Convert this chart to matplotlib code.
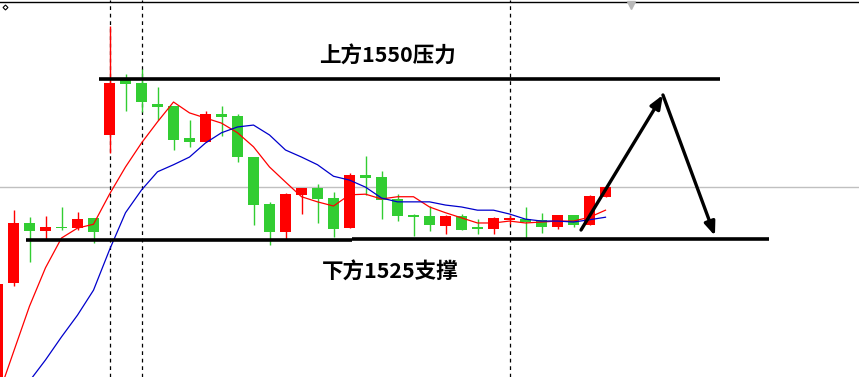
import matplotlib
matplotlib.use("Agg")
import matplotlib.pyplot as plt
import numpy as np

plt.rcParams['font.family'] = ['Noto Sans CJK SC', 'DejaVu Sans']

# ---- data (prices) ----
opens  = [1499.8, 1518.1, 1527.5, 1526.25, 1526.9, 1526.7, 1528.3, 1541.25, 1550.0, 1549.4,
          1546.1, 1545.8, 1540.8, 1540.2, 1544.5, 1544.2, 1537.8, 1530.5, 1526.1, 1531.9,
          1533.0, 1531.4, 1526.7, 1535.0, 1534.7, 1531.25, 1528.75, 1528.6, 1527.0, 1528.6,
          1526.9, 1526.6, 1528.0, 1528.1, 1528.0, 1526.9, 1528.75, 1527.2, 1531.6]
closes = [1518.0, 1527.5, 1526.25, 1526.9, 1526.7, 1528.1, 1526.1, 1549.4, 1549.2, 1546.4,
          1545.6, 1540.5, 1540.2, 1544.5, 1544.1, 1537.8, 1530.3, 1526.1, 1532.0, 1533.0,
          1531.25, 1526.6, 1535.0, 1534.5, 1531.1, 1528.6, 1528.4, 1527.2, 1528.6, 1526.4,
          1526.6, 1528.3, 1528.1, 1527.65, 1526.9, 1528.75, 1527.2, 1531.7, 1533.1]
highs  = [1518.0, 1529.5, 1528.4, 1528.6, 1530.0, 1529.2, 1528.3, 1558.3, 1550.8, 1551.6,
          1548.75, 1545.8, 1543.6, 1545.0, 1545.8, 1544.5, 1537.8, 1530.8, 1532.2, 1533.0,
          1533.6, 1532.3, 1535.3, 1538.0, 1535.6, 1532.0, 1528.9, 1530.2, 1528.75, 1528.9,
          1528.1, 1528.4, 1528.75, 1530.0, 1529.1, 1528.75, 1528.75, 1531.9, 1533.1]
lows   = [1498.3, 1517.7, 1521.4, 1525.0, 1526.4, 1526.4, 1524.4, 1538.4, 1545.0, 1544.8,
          1543.6, 1538.9, 1539.4, 1540.2, 1541.1, 1537.0, 1527.2, 1524.1, 1524.8, 1528.9,
          1527.5, 1525.3, 1526.7, 1531.9, 1528.1, 1527.8, 1525.5, 1526.25, 1525.8, 1526.4,
          1525.8, 1525.8, 1527.3, 1525.2, 1525.9, 1526.6, 1526.9, 1527.2, 1531.6]
ma_red  = [1500.15, 1507.34, 1514.5, 1520.5, 1525.15, 1526.7, 1527.3, 1532.0, 1536.25, 1540.0,
           1543.3, 1546.4, 1544.7, 1543.9, 1543.1, 1541.6, 1539.4, 1536.25, 1533.9, 1531.6,
           1530.8, 1530.15, 1531.9, 1532.0, 1531.25, 1531.6, 1531.6, 1530.0, 1529.1, 1528.3,
           1527.5, 1527.5, 1527.8, 1527.5, 1527.65, 1527.8, 1527.8, 1528.4, 1529.5]
ma_blue = [1494.7, 1498.75, 1502.8, 1506.1, 1509.7, 1513.1, 1517.0, 1523.3, 1529.1, 1532.65,
           1535.5, 1536.6, 1537.8, 1540.0, 1541.6, 1542.5, 1542.8, 1541.25, 1538.9, 1537.8,
           1536.6, 1534.8, 1534.2, 1533.1, 1531.4, 1530.8, 1530.8, 1530.8, 1530.3, 1530.0,
           1529.5, 1529.5, 1528.9, 1528.1, 1527.8, 1527.8, 1527.65, 1528.0, 1528.4]

resistance = 1550.0
support = 1525.0
last_price = 1533.1
marker_bars = [7, 9, 32]
label_top = "上方1550压力"
label_bottom = "下方1525支撑"
# arrow path (bar index, price)
arrow_x = [36.47, 41.59, 44.84]
arrow_y = [1526.4, 1547.5, 1525.5]

# ---- figure ----
W, H = 859, 377
fig = plt.figure(figsize=(W / 100, H / 100), dpi=100)
ax = fig.add_axes([0, 0, 1, 1])
ax.set_xlim(2.5 / 16, (W + 2.5) / 16)
ax.set_ylim(1562.34 - H / 6.4, 1562.34)
ax.axis('off')

RED = '#ff0000'
GREEN = '#32cd32'
x = np.arange(len(opens))
o = np.array(opens); c = np.array(closes)
cols = [RED if cc >= oo else GREEN for oo, cc in zip(o, c)]

# current price line
ax.axhline(last_price, color='#c0c0c0', lw=1.0, zorder=1)
# top border
ax.axhline(1562.0, color='black', lw=1.0, zorder=1)

# dashed verticals
for b in marker_bars:
    ax.axvline(b, color='black', lw=0.9, ls=(0, (3, 3)), zorder=1)

# wicks
ax.vlines(x, lows, highs, colors=cols, lw=1.0, zorder=3)
# bodies
bottoms = np.minimum(o, c)
heights = np.maximum(np.abs(c - o), 0.2)
ax.bar(x, heights, bottom=bottoms, width=0.7, color=cols, lw=0, zorder=4)

# moving averages
ax.plot(x, ma_red, color=RED, lw=0.9, zorder=5)
ax.plot(x, ma_blue, color='#0000cc', lw=0.9, zorder=5)

# support / resistance
ax.plot([6.34, 45.16], [resistance, resistance], color='black', lw=2.6, zorder=6, solid_capstyle='butt')
ax.plot([1.78, 22.16], [support - 0.2, support - 0.2], color='black', lw=2.6, zorder=6, solid_capstyle='butt')
ax.plot([22.16, 48.22], [support, support], color='black', lw=2.6, zorder=6, solid_capstyle='butt')

# arrows
for i in range(2):
    ax.annotate('', xy=(arrow_x[i + 1], arrow_y[i + 1]), xytext=(arrow_x[i], arrow_y[i]),
                arrowprops=dict(arrowstyle='-|>,head_length=0.8,head_width=0.32',
                                color='black', lw=2.4, shrinkA=0, shrinkB=0),
                zorder=7)

# labels
ax.text(24.4, 1553.6, label_top, ha='center', va='center', fontsize=15.5,
        fontweight='bold', color='black', zorder=8)
ax.text(24.53, 1519.76, label_bottom, ha='center', va='center', fontsize=15.5,
        fontweight='bold', color='black', zorder=8)

# small markers at top
ax.plot([0.47], [1561.25], marker='D', ms=2.5, mfc='white', mec='black', mew=0.8)
ax.plot([39.6], [1561.6], marker='v', ms=6, color='#b8b8b8')

fig.savefig('out.png', dpi=100)
